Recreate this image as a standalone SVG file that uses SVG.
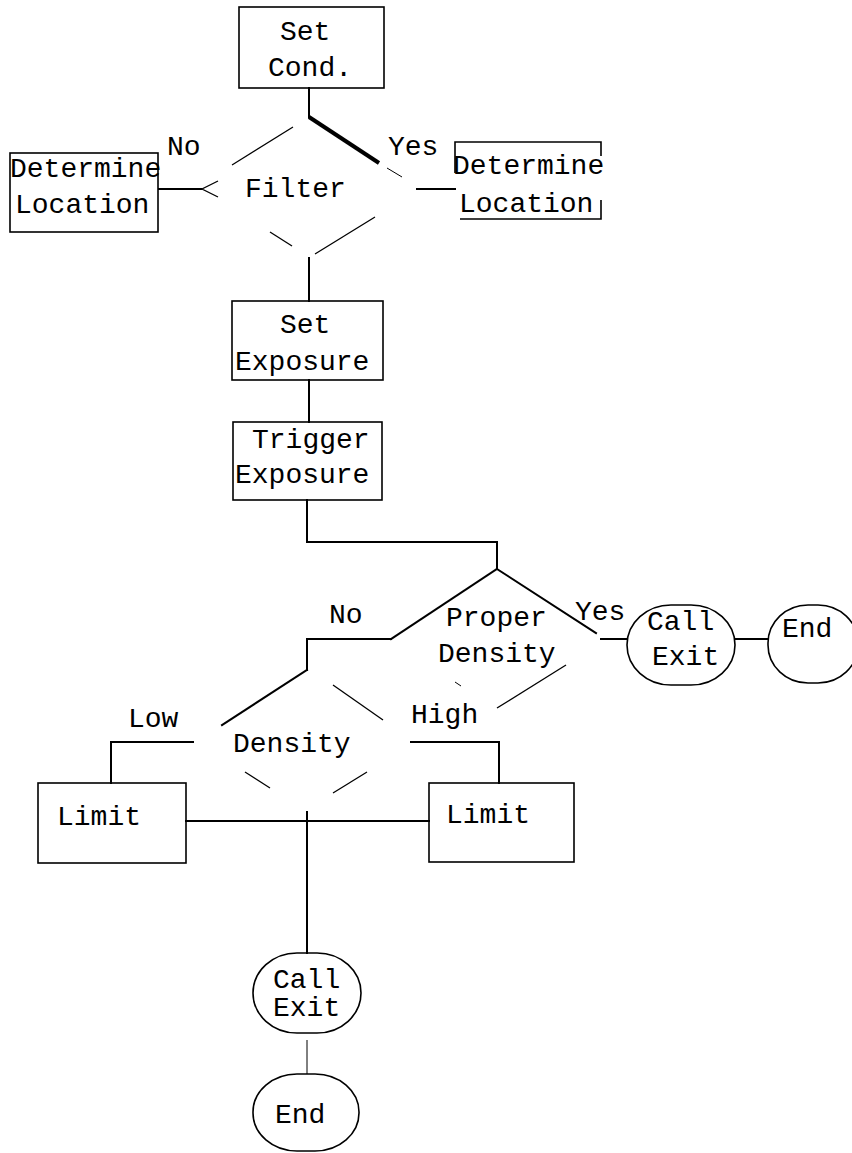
<svg xmlns="http://www.w3.org/2000/svg" width="852" height="1153" viewBox="0 0 852 1153">
<style>
.bx{fill:none;stroke:#000;stroke-width:1.6}
.dm{fill:none;stroke:#000;stroke-width:1.3}
.ln{fill:none;stroke:#000;stroke-width:2;stroke-linecap:square}
.fa{fill:none;stroke:#000;stroke-width:1}
.t{font-family:"Liberation Mono","DejaVu Sans Mono",monospace;font-size:28px;fill:#000}
</style>
<rect width="852" height="1153" fill="#fff"/>
<g id="connectors">
<path class="ln" d="M309,88 V117"/>
<path class="ln" d="M159,189 H201"/>
<path class="dm" d="M218,181 L202,189 L218,197"/>
<path class="ln" d="M417,189 H455"/>
<path class="ln" d="M309,258 V301"/>
<path class="ln" d="M309,380 V422"/>
<path class="ln" d="M307,500 V542 H497 V569"/>
<path class="ln" d="M391,639 H307 V670"/>
<path class="ln" d="M601,639 H627"/>
<path class="ln" d="M735,639 H768"/>
<path class="ln" d="M193,742 H111 V783"/>
<path class="ln" d="M411,742 H499 V783"/>
<path class="ln" d="M186,821 H429"/>
<path class="ln" d="M307,812 V953"/>
<path class="fa" d="M307,1040 V1074"/>
<text class="t" x="167" y="155">No</text>
<text class="t" x="388" y="155">Yes</text>
<text class="t" x="329" y="623">No</text>
<text class="t" x="575" y="620">Yes</text>
<text class="t" x="128" y="727">Low</text>
<text class="t" x="411" y="723">High</text>
</g>
<g id="set-cond">
<rect class="bx" x="239" y="7" width="145" height="81"/>
<text class="t" x="280" y="40">Set</text>
<text class="t" x="268" y="76">Cond.</text>
</g>
<g id="filter">
<path d="M309,117 L379,163" stroke="#000" stroke-width="4" fill="none"/>
<path class="fa" d="M387,168 L402,177"/>
<path class="dm" d="M293,127 L232,165"/>
<path class="dm" d="M270,232 L292,246"/>
<path class="dm" d="M315,254 L375,217"/>
<text class="t" x="245" y="197">Filter</text>
</g>
<g id="determine-location-no">
<rect class="bx" x="10" y="153" width="148" height="79"/>
<text class="t" x="10" y="177">Determine</text>
<text class="t" x="15" y="213">Location</text>
</g>
<g id="determine-location-yes">
<path class="bx" d="M601,156 V142 H455 V173 M460,219 H601 V200"/>
<text class="t" x="453" y="174">Determine</text>
<text class="t" x="459" y="212">Location</text>
</g>
<g id="set-exposure">
<rect class="bx" x="232" y="301" width="151" height="79"/>
<text class="t" x="280" y="333">Set</text>
<text class="t" x="235" y="370">Exposure</text>
</g>
<g id="trigger-exposure">
<rect class="bx" x="233" y="422" width="149" height="78"/>
<text class="t" x="252" y="448">Trigger</text>
<text class="t" x="235" y="483">Exposure</text>
</g>
<g id="proper-density">
<path class="ln" d="M497,569 L391,639"/>
<path class="ln" d="M497,569 L596,633"/>
<path class="dm" d="M566,665 L497,708"/>
<path class="fa" d="M455,682 L461,686"/>
<text class="t" x="446" y="626">Proper</text>
<text class="t" x="438" y="662">Density</text>
</g>
<g id="density">
<path class="ln" d="M307,670 L222,725"/>
<path class="dm" d="M333,685 L383,720"/>
<path class="dm" d="M245,772 L270,788"/>
<path class="dm" d="M333,793 L367,772"/>
<text class="t" x="233" y="752">Density</text>
</g>
<g id="limit-low">
<rect class="bx" x="38" y="783" width="148" height="80"/>
<text class="t" x="57" y="825">Limit</text>
</g>
<g id="limit-high">
<rect class="bx" x="429" y="783" width="145" height="79"/>
<text class="t" x="446" y="823">Limit</text>
</g>
<g id="call-exit-1">
<rect class="bx" x="627" y="605" width="108" height="80" rx="44" ry="40"/>
<text class="t" x="647" y="630">Call</text>
<text class="t" x="652" y="665">Exit</text>
</g>
<g id="end-1">
<rect class="bx" x="768" y="605" width="90" height="78" rx="40" ry="38"/>
<text class="t" x="782" y="637">End</text>
</g>
<g id="call-exit-2">
<rect class="bx" x="253" y="953" width="108" height="80" rx="44" ry="40"/>
<text class="t" x="273" y="988">Call</text>
<text class="t" x="273" y="1016">Exit</text>
</g>
<g id="end-2">
<rect class="bx" x="253" y="1074" width="106" height="77" rx="44" ry="38"/>
<text class="t" x="275" y="1123">End</text>
</g>
</svg>
